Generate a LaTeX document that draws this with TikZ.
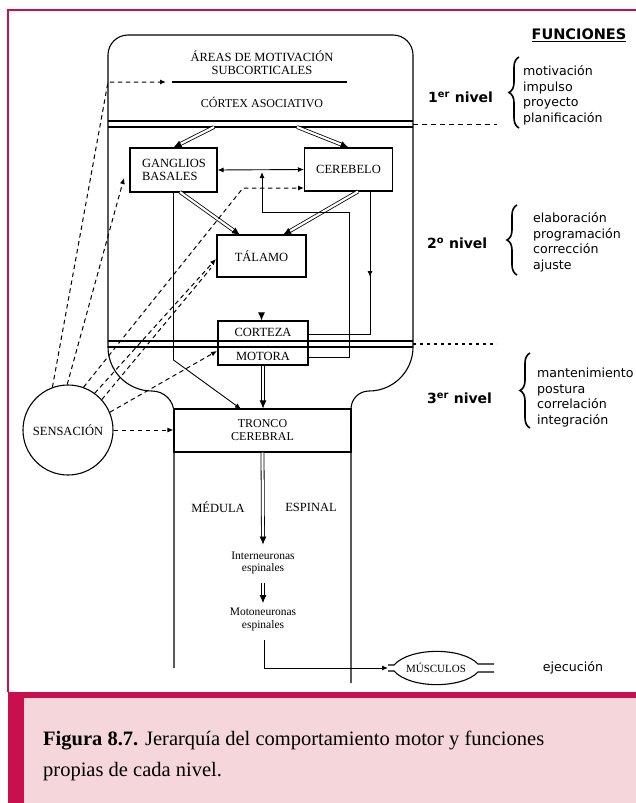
\documentclass[tikz,border=0pt]{standalone}
\usepackage{fontspec}
\setmainfont{Liberation Serif}
\newfontfamily\sansf{DejaVu Sans}
\usetikzlibrary{arrows.meta,decorations.pathreplacing}
\definecolor{crimson}{HTML}{C8104E}
\definecolor{capfill}{HTML}{F5D6DA}
\begin{document}
\begin{tikzpicture}[x=1pt,y=-1pt,
  every node/.style={inner sep=0pt},
  lab/.style={font=\fontsize{12.5}{13}\selectfont, align=center},
  small/.style={font=\fontsize{11.5}{12.5}\selectfont, align=center},
  outl/.style={line width=1.1pt},
  boxn/.style={draw, line width=1.1pt, font=\fontsize{12.5}{13}\selectfont, align=center},
  conn/.style={line width=0.9pt},
  tip/.style={-{Latex[length=6pt,width=5pt]}},
  dsh/.style={line width=1pt, dash pattern=on 4.5pt off 3.5pt},
  dbl/.style={line width=0.8pt, double distance=2.2pt, -{Latex[length=8pt,width=7pt]}},
  side/.style={font=\sansf\fontsize{12.6}{15.5}\selectfont, align=left, anchor=west},
  lvl/.style={font=\sansf\bfseries\fontsize{14}{16}\selectfont, anchor=west},
  brc/.style={decorate, line width=1.6pt, decoration={brace, amplitude=10pt}},
]
\useasboundingbox (0,0) rectangle (636,803);

% caption panel and page frame
\fill[capfill] (24,698) rectangle (636,803);
\fill[crimson] (8,692) rectangle (636,698);
\fill[crimson] (8,692) rectangle (24,803);
\draw[crimson, line width=1.3pt] (8,692) -- (8,10) -- (636,10);
\node[anchor=west, align=left, font=\fontsize{20.5}{31}\selectfont] (caption) at (43,756)
  {\textbf{Figura 8.7.} Jerarquía del comportamiento motor y funciones\\propias de cada nivel.};

% brain outline
\draw[outl, rounded corners=20pt] (108,347) -- (108,35) -- (413,35) -- (413,347);
\draw[outl] (108,347) .. controls (108,371.3) and (127.7,391) .. (152,391)
  .. controls (164.2,391) and (174,400.8) .. (174,413) -- (174,668);
\draw[outl] (413,347) .. controls (413,371.3) and (393.3,391) .. (369,391)
  .. controls (359.1,391) and (351,398.9) .. (351,409) -- (351,683);
\draw[outl] (108,121) -- (413,121);
\draw[outl] (108,127) -- (413,127);
\draw[outl] (108,341) -- (413,341);
\draw[outl] (108,347) -- (413,347);
\draw[outl] (172,82) -- (347,82);

% level separators
\draw[dsh, dash pattern=on 5pt off 4pt] (413,124) -- (497,124);
\draw[line width=1.3pt, dash pattern=on 3pt off 4pt] (413,344) -- (497,344);

% labels inside the outline
\node[lab] (areas) at (262,62.5) {ÁREAS DE MOTIVACIÓN\\SUBCORTICALES};
\node[lab, font=\fontsize{12}{13}\selectfont] (cortex) at (262,102) {CÓRTEX ASOCIATIVO};

% boxes
\node[boxn, minimum width=87pt, minimum height=44pt, text width=63pt, align=left, inner xsep=12pt] (gang) at (173.5,170) {GANGLIOS\\BASALES};
\node[boxn, minimum width=88pt, minimum height=43pt] (cereb) at (348.5,169.5) {CEREBELO};
\node[boxn, minimum width=89pt, minimum height=42pt] (tal) at (261.5,256) {TÁLAMO};
\node[boxn, minimum width=90pt, minimum height=44pt] (motor) at (263,343) {};
\node[lab] (cortz) at (263,332) {CORTEZA};
\node[lab] (motr) at (263,356) {MOTORA};
\node[boxn, minimum width=177pt, minimum height=43pt, font=\fontsize{12}{13}\selectfont] (tronco) at (262.5,430.5) {TRONCO\\CEREBRAL};
\node[boxn, circle, minimum size=90pt] (sens) at (68,430) {SENSACIÓN};

\node[lab] (medula) at (218,507) {MÉDULA};
\node[lab] (espinal) at (311,507) {ESPINAL};
\node[small] (inter) at (263,563) {Interneuronas\\espinales};
\node[small] (moto) at (263,619.5) {Motoneuronas\\espinales};
\node[small, font=\fontsize{11}{12}\selectfont] (musc) at (436,668) {MÚSCULOS};
\node[font=\sansf\fontsize{12.6}{15}\selectfont] (ejec) at (573,668) {ejecución};

% muscle belly with tendons
\draw[outl] (388,665) -- (394,665) .. controls (410,647) and (462,647) .. (478,664) -- (494,664);
\draw[outl] (388,671) -- (394,671) .. controls (410,689) and (462,689) .. (478,672) -- (494,672);

% functions column
\node[font=\sansf\bfseries\fontsize{14.5}{16}\selectfont] (func) at (579,35) {\underline{FUNCIONES}};
\node[lvl] (niv1) at (428,97) {1\textsuperscript{er} nivel};
\node[lvl] (niv2) at (427,243) {2\textsuperscript{o} nivel};
\node[lvl] (niv3) at (427,398) {3\textsuperscript{er} nivel};
\draw[brc] (519,128) -- (519,57);
\draw[brc] (517,275) -- (517,205);
\draw[brc] (530,428) -- (530,353);
\node[side] (f1) at (523,95.5) {motivación\\impulso\\proyecto\\planificación};
\node[side] (f2) at (533,242.5) {elaboración\\programación\\corrección\\ajuste};
\node[side] (f3) at (537,397.5) {mantenimiento\\postura\\correlación\\integración};

% connector end points
\coordinate (aK) at (108,82);
\coordinate (aT) at (166,82);
\coordinate (gIn) at (124,178);
\coordinate (cK) at (243,188);
\coordinate (cIn) at (304,188);
\coordinate (tIn) at (216,259);
\coordinate (tIn2) at (211,268);
\coordinate (mIn) at (217,351);
\coordinate (dA) at (214,127);
\coordinate (dB) at (297,127);
\coordinate (gS) at (180,192);
\coordinate (tNL) at (240,235);
\coordinate (cS) at (358,191.5);
\coordinate (tNR) at (283,235);
\coordinate (mR) at (308,357);
\coordinate (upT) at (262,172);
\coordinate (cB) at (370,191);
\coordinate (cR) at (308,334);
\coordinate (tTL) at (241,409);
\coordinate (mS) at (264,640);
\coordinate (mT) at (388,668);

% double (strong) projections
\draw[dbl] (dA) -- (gang.north);
\draw[dbl] (dB) -- (cereb.north);
\draw[dbl] (gS) -- (tNL);
\draw[dbl] (cS) -- (tNR);
\draw[dbl] (tal.south) -- (tal.south |- motor.north);
\draw[dbl] (motor.south) -- (motor.south |- tronco.north);
\draw[dbl] (tronco.south) -- ([yshift=7pt]inter.north);
\draw[dbl, shorten <=9pt, shorten >=5pt] (inter.south) -- (moto.north);

% single connections
\draw[conn, {Latex[length=6pt,width=5pt]}-{Latex[length=6pt,width=5pt]}] (gang.east) -- (cereb.west);
\draw[conn, tip] (mR) -- (349,357) -- (349,212) -- (262,212) -- (upT);
\draw[conn, tip] (cB) -- (370,277);
\draw[conn] (370,272) -- (370,334) -- (cR);
\draw[conn, tip] (gang.south) -- (173.5,360) -- (tTL);
\draw[conn, tip] (mS) -- (264,668) -- (mT);

% sensory feedback (dashed)
\draw[dsh, tip] (sens.110) -- (aK) -- (aT);
\draw[dsh, tip] (sens.91) -- (gIn);
\draw[dsh, tip] (sens.70) -- (cK) -- (cIn);
\draw[dsh, tip] (sens.54) -- (tIn);
\draw[dsh] (sens.42) -- (tIn2);
\draw[dsh, tip] (sens.23) -- (mIn);
\draw[dsh, tip] (sens.east) -- (sens.east -| tronco.west);
\end{tikzpicture}
\end{document}
